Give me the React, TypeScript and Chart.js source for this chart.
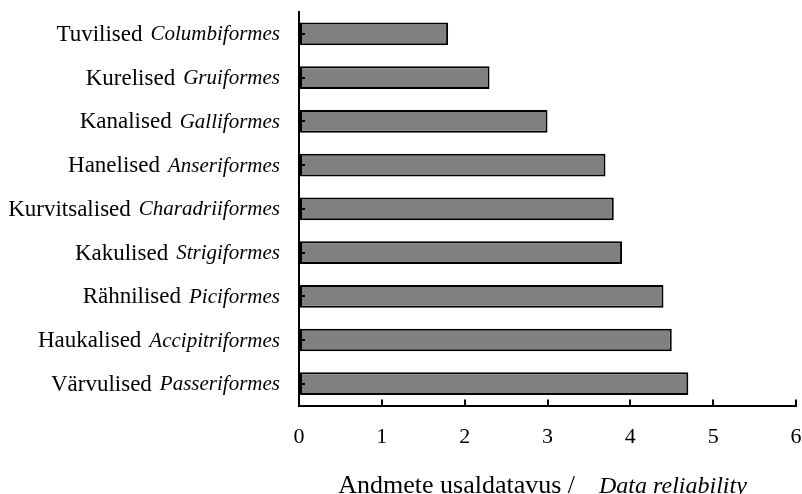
import React, { useEffect, useRef } from "react";
import { Chart, registerables } from "chart.js";

Chart.register(...registerables);

const commonNames = [
  "Tuvilised",
  "Kurelised",
  "Kanalised",
  "Hanelised",
  "Kurvitsalised",
  "Kakulised",
  "Rähnilised",
  "Haukalised",
  "Värvulised",
];
const latinNames = [
  "Columbiformes",
  "Gruiformes",
  "Galliformes",
  "Anseriformes",
  "Charadriiformes",
  "Strigiformes",
  "Piciformes",
  "Accipitriformes",
  "Passeriformes",
];
const reliability = [1.8, 2.3, 3.0, 3.7, 3.8, 3.9, 4.4, 4.5, 4.7];
const xMin = 0;
const xMax = 6;
const xStep = 1;
const titleRoman = "Andmete usaldatavus /";
const titleItalic = "Data reliability";

const FONT = '"Liberation Serif", "Times New Roman", serif';

const labelPlugin = {
  id: "mixedLabels",
  afterDraw(chart: any) {
    const ctx = chart.ctx;
    const yScale = chart.scales.y;
    const xScale = chart.scales.x;
    const area = chart.chartArea;
    ctx.save();
    // inward y tick marks
    ctx.strokeStyle = "#000";
    ctx.lineWidth = 2;
    commonNames.forEach((_, i) => {
      const y = Math.round(yScale.getPixelForValue(i));
      ctx.beginPath();
      ctx.moveTo(area.left, y);
      ctx.lineTo(area.left + 6, y);
      ctx.stroke();
    });
    ctx.fillStyle = "#000";
    ctx.textBaseline = "middle";
    ctx.textAlign = "left";
    const right = area.left - 19;
    const gap = 8;
    commonNames.forEach((name, i) => {
      const y = yScale.getPixelForValue(i) + 1;
      ctx.font = `italic 21px ${FONT}`;
      const wItal = ctx.measureText(latinNames[i]).width;
      ctx.font = `23px ${FONT}`;
      const wRom = ctx.measureText(name).width;
      const xi = right - wItal;
      ctx.fillText(name, xi - gap - wRom, y);
      ctx.font = `italic 21px ${FONT}`;
      ctx.fillText(latinNames[i], xi, y);
    });
    // axis title
    ctx.textBaseline = "alphabetic";
    const ty = xScale.bottom + 19;
    ctx.font = `26px ${FONT}`;
    const w1 = ctx.measureText(titleRoman).width;
    ctx.font = `italic 24px ${FONT}`;
    const w2 = ctx.measureText(titleItalic).width;
    const tgap = 24;
    const total = w1 + tgap + w2;
    const cx = (area.left + area.right) / 2 - 5;
    const x0 = cx - total / 2;
    ctx.font = `26px ${FONT}`;
    ctx.fillText(titleRoman, x0, ty);
    ctx.font = `italic 24px ${FONT}`;
    ctx.fillText(titleItalic, x0 + w1 + tgap, ty);
    ctx.restore();
  },
};

export default function App() {
  const ref = useRef<HTMLCanvasElement>(null);
  useEffect(() => {
    if (!ref.current) return;
    const chart = new Chart(ref.current, {
      type: "bar",
      data: {
        labels: commonNames.map((n, i) => n + " " + latinNames[i]),
        datasets: [
          {
            data: reliability,
            backgroundColor: "#808080",
            borderColor: "#000",
            borderWidth: 2,
            borderSkipped: false,
            categoryPercentage: 1,
            barPercentage: 0.52,
          },
        ],
      },
      options: {
        indexAxis: "y",
        animation: false,
        responsive: true,
        maintainAspectRatio: false,
        layout: { padding: { left: 299, right: 6, top: 12, bottom: 20 } },
        plugins: {
          legend: { display: false },
          tooltip: { enabled: false },
          title: { display: false },
        },
        scales: {
          x: {
            type: "linear",
            min: xMin,
            max: xMax,
            afterFit: (scale: any) => {
              scale.paddingLeft = 0;
              scale.paddingRight = 0;
            },
            ticks: {
              stepSize: xStep,
              color: "#000",
              padding: 24,
              font: { family: FONT, size: 22 },
            },
            grid: {
              drawOnChartArea: false,
              color: "#000",
              lineWidth: 2,
              tickLength: -6,
            },
            border: { color: "#000", width: 2 },
          },
          y: {
            type: "category",
            ticks: { display: false },
            grid: {
              display: true,
              drawOnChartArea: false,
              drawTicks: false,
              offset: false,
            },
            border: { color: "#000", width: 2 },
          },
        },
      },
      plugins: [labelPlugin],
    });
    return () => chart.destroy();
  }, []);
  return (
    <div style={{ position: "fixed", left: 0, top: 0, width: 802, height: 494, background: "#fff" }}>
      <canvas ref={ref} />
    </div>
  );
}
